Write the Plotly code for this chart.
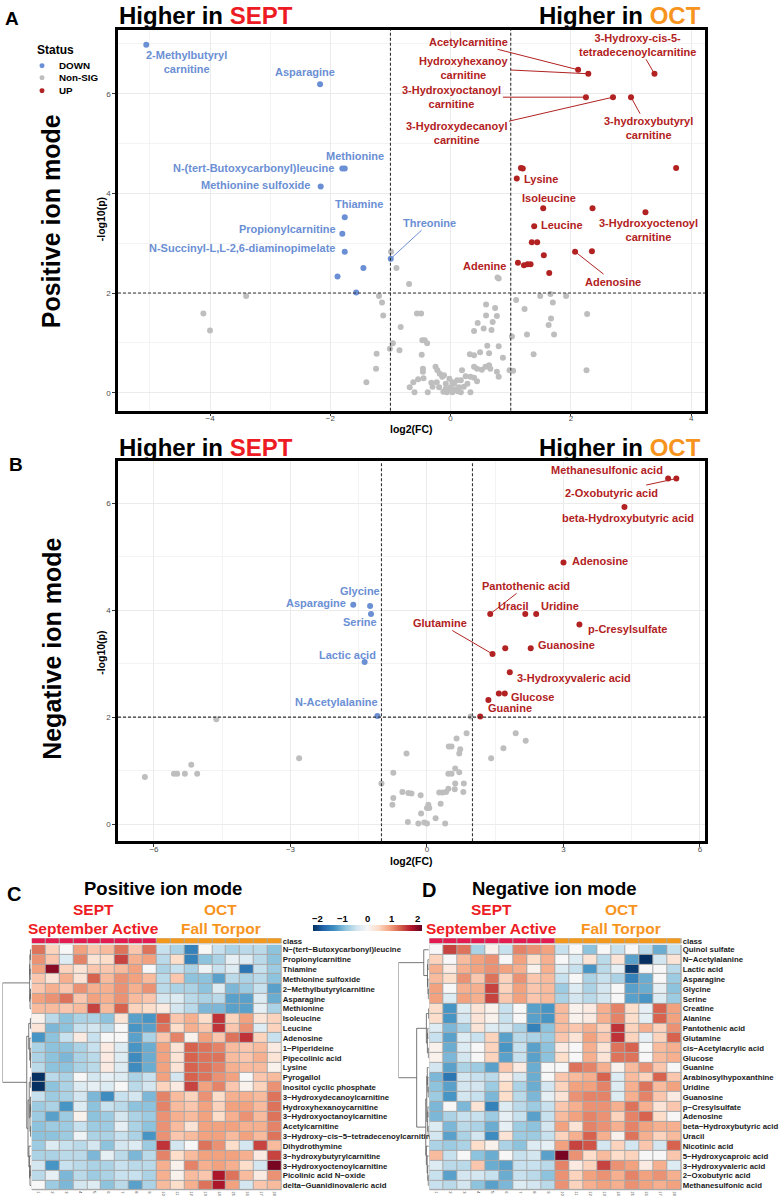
import plotly.graph_objects as go

W, H = 782, 1203
FONT = "Liberation Sans, Arial, sans-serif"
COL_DOWN = "#6B8FD4"
COL_UP = "#B22222"
COL_NS = "#BEBEBE"
RED_T = "#ED1C24"
ORANGE_T = "#F7941D"
SEPT_BAR = "#E31B4F"
OCT_BAR = "#F39A1E"

FC_CUT = 1.0
P_CUT = 2.0

# ---------------- Panel A (positive ion mode) ----------------
A_down_names = ["2-Methylbutyryl\ncarnitine", "Asparagine", "N-(tert-Butoxycarbonyl)leucine", "Methionine",
                "Methionine sulfoxide", "Thiamine", "Propionylcarnitine", "N-Succinyl-L,L-2,6-diaminopimelate",
                "", "", "", "Threonine"]
A_down_fc = [-5.06, -2.17, -1.80, -1.76, -2.16, -1.76, -1.80, -1.76, -1.45, -1.88, -1.57, -0.995]
A_down_p = [6.98, 6.19, 4.50, 4.50, 4.14, 3.52, 3.19, 2.83, 2.50, 2.33, 2.01, 2.69]

A_up_names = ["Acetylcarnitine", "Hydroxyhexanoy\ncarnitine", "3-Hydroxy-cis-5-\ntetradecenoylcarnitine",
              "3-Hydroxyoctanoyl\ncarnitine", "3-Hydroxydecanoyl\ncarnitine", "3-hydroxybutyryl\ncarnitine",
              "", "", "", "Lysine", "Isoleucine", "", "3-Hydroxyoctenoyl\ncarnitine", "Leucine", "", "", "",
              "Adenosine", "", "Adenine", "", "", "", ""]
A_up_fc = [2.12, 2.29, 3.39, 2.25, 2.70, 3.00, 1.17, 1.20, 3.75, 1.10, 1.54, 2.36, 3.24, 1.39, 1.35, 1.44,
           1.55, 2.07, 2.35, 1.12, 1.22, 1.28, 1.33, 1.64]
A_up_p = [6.48, 6.40, 6.40, 5.93, 5.93, 5.93, 4.51, 4.50, 4.51, 4.30, 3.70, 3.70, 3.62, 3.34, 3.02, 3.02,
          2.76, 2.83, 2.84, 2.61, 2.56, 2.58, 2.58, 2.40]

A_ns_fc = [-3.40, -4.11, -4.00, -1.19, -1.14, -1.12, -1.23, -1.24, -1.40, -1.01, -0.96, -0.99, -0.90, -0.85,
           -0.83, -0.69, 0.80, -0.56, -0.49, -0.47, -0.43, -0.39, -0.48, -0.46, -0.46, -0.32, -0.62, -0.54,
           -0.45, -0.68, -0.60, -0.38, -0.25, -0.22, -0.18, -0.14, -0.11, -0.23, -0.19, -0.08, -0.03, 0.03,
           0.08, 0.14, 0.17, 0.19, 0.25, 0.33, 0.32, 0.39, 0.49, 0.64, 0.80, 0.87, 0.61, 0.39, 0.44, 0.52,
           0.58, 0.64, 0.66, 0.77, 0.80, 0.98, 1.04, -0.08, 0.00, 0.06, 0.11, 0.03, -0.06, 0.17, 0.39, 0.44,
           0.33, 0.45, 0.55, 0.70, 0.68, 0.77, 0.74, 0.59, 0.59, 0.39, 1.09, 1.23, 1.27, 1.38, 1.49, 1.66,
           1.70, 1.92, 1.67, 1.63, 1.72, 2.27, 2.26, 1.02, 0.78, -0.12, 0.12, 0.22, -0.02, 0.28, -0.30]
A_ns_p = [1.94, 1.59, 1.25, 1.94, 1.81, 1.55, 0.78, 0.48, 0.21, 0.88, 0.99, 2.83, 2.50, 0.85,
          1.32, 2.18, 2.29, 1.59, 1.59, 1.05, 1.05, 0.99, 0.76, 0.48, 0.42, 0.20, 0.21, 0.27,
          0.29, 0.11, 0.01, 0.01, 0.52, 0.45, 0.38, 0.32, 0.35, 0.21, 0.11, 0.08, 0.05, 0.01,
          0.06, 0.11, 0.25, 0.45, 0.33, 0.01, 0.77, 0.75, 0.81, 0.79, 0.93, 0.70, 0.94, 0.52, 0.48, 0.46,
          0.52, 0.55, 0.48, 0.42, 0.32, 0.45, 0.44, 0.18, 0.11, 0.18, 0.25, 0.21, 0.01, 0.01, 0.30, 0.23,
          0.32, 1.40, 1.29, 1.42, 1.26, 1.54, 1.70, 1.77, 1.55, 1.24, 1.86, 1.68, 1.17, 0.77, 1.94, 1.98,
          1.81, 1.94, 1.49, 1.36, 1.17, 1.58, 0.45, 1.13, 2.31, 0.02, 0.03, 0.12, 0.28, 0.18, 0.12]

# ---------------- Panel B (negative ion mode) ----------------
B_down_names = ["Asparagine", "Glycine", "Serine", "Lactic acid", "N-Acetylalanine"]
B_down_fc = [-1.62, -1.25, -1.23, -1.37, -1.09]
B_down_p = [4.10, 4.08, 3.93, 3.03, 2.02]

B_up_names = ["Methanesulfonic acid", "2-Oxobutyric acid", "beta-Hydroxybutyric acid", "Adenosine",
              "Pantothenic acid", "Uracil", "Uridine", "p-Cresylsulfate", "Glutamine", "", "Guanosine",
              "3-Hydroxyvaleric acid", "", "Glucose", "Guanine", ""]
B_up_fc = [5.30, 5.48, 4.34, 3.00, 1.39, 2.16, 2.40, 3.35, 1.44, 1.72, 2.28, 1.82, 1.58, 1.71, 1.35, 1.17]
B_up_p = [6.46, 6.46, 5.93, 4.89, 3.93, 3.93, 3.93, 3.73, 3.18, 3.29, 3.29, 2.84, 2.44, 2.44, 2.32, 2.01]

B_ns_fc = [-4.63, -6.20, -5.56, -5.49, -5.32, -5.18, -5.05, -2.81, -1.00, -0.74, -0.74, -0.76,
           0.96, 0.87, 0.65, 0.48, 0.54, 0.73, 0.71, -0.45, 0.47, 0.54, 0.62, 0.71, 0.62, 0.81, 0.47,
           0.27, 0.34, 0.42, -0.54, -0.41, -0.34, -0.14, 0.61, 0.80, 0.30, 0.03, 0.00, 0.05, -0.13,
           0.19, 0.40, -0.42, -0.19, -0.06, 0.00, 1.41, 1.68, 1.95, 2.17]
B_ns_p = [1.96, 0.88, 0.94, 0.94, 0.94, 1.11, 0.94, 1.23, 0.76, 0.96, 0.49, 0.36,
          2.01, 1.70, 1.60, 1.45, 1.45, 1.40, 1.32, 1.32, 0.94, 0.94, 1.04, 0.97, 0.76, 0.76, 0.66,
          0.59, 0.59, 0.60, 0.60, 0.58, 0.57, 0.54, 0.65, 0.60, 0.38, 0.36, 0.30, 0.30, 0.20,
          0.11, 0.01, 0.04, 0.01, 0.03, 0.01, 1.23, 1.42, 1.70, 1.56]

# ---------------- Heatmaps ----------------
SAMPLES = [str(i) for i in range(1, 19)]
CLASSES = ["SEPT"] * 9 + ["OCT"] * 9

C_ROWS = ["N\u2212(tert\u2212Butoxycarbonyl)leucine", "Propionylcarnitine", "Thiamine", "Methionine sulfoxide",
          "2\u2212Methylbutyrylcarnitine", "Asparagine", "Methionine", "Isoleucine", "Leucine", "Adenosine",
          "1\u2212Piperideine", "Pipecolinic acid", "Lysine", "Pyrogallol", "Inositol cyclic phosphate",
          "3\u2212Hydroxydecanoylcarnitine", "Hydroxyhexanoycarnitine", "3\u2212Hydroxyoctanoylcarnitine",
          "Acetylcarnitine", "3\u2212Hydroxy\u2212cis\u22125\u2212tetradecenoylcarnitine", "Dihydrothymine",
          "3\u2212hydroxybutyrylcarnitine", "3\u2212Hydroxyoctenoylcarnitine", "Picolinic acid N\u2212oxide",
          "delta\u2212Guanidinovaleric acid"]
C_Z = [
    [1.2, 0.5, 0.0, 0.9, 0.6, 0.7, 1.2, 0.6, 1.2, -0.5, -0.7, -1.5, 0.0, -0.5, -0.7, -0.6, -0.6, -0.9],
    [1.0, 0.6, -0.3, 1.1, 0.3, 0.4, 1.5, 0.8, 0.9, -0.6, 0.4, -1.5, -0.9, -0.7, -0.2, -0.3, -0.6, -0.9],
    [0.9, 2.0, 0.5, 0.3, 0.6, 0.6, 0.7, 0.9, 0.0, -0.7, -0.5, -0.7, -0.1, -0.5, -0.3, -1.6, -0.5, -0.8],
    [0.6, 0.3, 0.8, 0.3, 1.3, 0.7, 1.0, 0.9, 0.7, -0.6, 0.6, -0.9, -0.9, -1.2, -0.6, -0.7, -0.6, -0.9],
    [0.6, 0.8, 0.6, 1.0, 0.8, 0.8, 1.0, 0.8, 1.0, -0.6, -0.7, -0.7, -0.9, -0.3, -1.0, -0.8, -0.5, -1.2],
    [0.9, 1.0, 1.2, 0.6, 0.9, 0.8, 1.0, 0.7, 0.6, -0.4, -0.3, -0.6, -0.7, -0.6, -1.2, -1.2, -0.3, -1.1],
    [0.7, 0.7, 0.6, 0.7, 1.5, 0.7, 1.3, 0.5, 0.4, 0.2, -0.4, -0.6, -1.0, -1.0, -1.2, -1.2, -0.2, -0.7],
    [0.1, -0.6, -0.9, -0.7, -0.7, -0.9, 0.3, -1.2, -1.3, 1.3, 0.6, 0.8, 0.4, 1.6, 0.5, 0.9, 0.3, 0.5],
    [0.3, -1.0, -0.9, -0.5, -0.4, -0.6, 0.0, -1.3, -1.2, 1.2, 0.4, 0.8, 0.6, 1.6, 0.6, 1.0, -0.3, 0.5],
    [-1.3, -0.9, -0.5, 0.2, -0.5, 0.0, 0.0, -1.2, -0.7, 0.6, 1.1, 0.1, 0.9, 0.6, 1.2, 1.6, 0.5, -0.5],
    [-0.7, -0.9, -0.9, -0.7, -0.5, 0.2, -0.3, -1.3, -1.1, 0.9, 0.3, 1.3, 1.2, 1.1, 0.7, 0.6, 0.7, 0.2],
    [-0.7, -0.9, -1.0, -0.7, -0.6, 0.2, -0.3, -1.4, -1.1, 0.9, 0.3, 1.3, 1.2, 1.2, 0.7, 0.6, 0.8, 0.3],
    [-0.6, -0.9, -0.9, -0.7, -0.6, 0.2, -0.3, -1.4, -1.1, 0.9, 0.3, 1.3, 1.2, 1.1, 0.8, 0.7, 0.7, 0.1],
    [-2.3, -0.6, -0.7, 0.0, -0.4, -0.2, -0.3, -0.7, -0.5, 0.9, -0.4, 1.3, 1.2, 1.0, 0.9, 0.0, 0.6, 0.7],
    [-2.3, -0.9, -0.7, -0.3, -0.2, -0.3, 0.0, -0.6, -0.4, 0.5, 0.2, 1.5, 0.9, 1.1, 0.6, 0.1, 0.5, 1.0],
    [-0.5, -0.8, -0.7, -0.4, -1.0, -1.4, -0.5, -0.4, -1.0, 1.1, 0.7, 0.5, 1.0, 0.4, 0.8, 0.8, 0.7, 1.2],
    [-0.8, -0.7, -1.3, -0.3, -0.9, -0.5, -0.6, -0.9, -0.9, 1.1, 0.7, 0.6, 0.9, 0.5, 0.9, 0.9, 0.7, 1.2],
    [-0.8, -1.2, -0.8, 0.1, -0.9, -0.8, -0.4, -0.7, -0.8, 1.0, 0.8, 0.7, 0.9, 0.4, 0.8, 1.0, 0.7, 1.2],
    [-0.9, -0.8, -0.8, -0.5, -0.8, -0.8, -0.2, -0.7, -0.9, 1.0, 0.7, 0.3, 0.9, 0.9, 0.9, 0.8, 0.8, 1.1],
    [-0.9, -0.9, -0.8, -0.1, -0.7, -0.7, -0.5, -0.7, -1.3, 1.0, 0.6, 0.7, 0.9, 0.9, 0.7, 0.9, 0.7, 1.2],
    [-0.8, -0.3, -0.5, -0.6, -0.4, -0.9, -0.4, -0.3, -0.8, 1.6, -0.4, 0.0, 1.2, 1.0, 0.4, -0.4, 1.5, 0.7],
    [-0.7, -0.7, -0.6, -0.6, -1.0, -0.2, -0.6, -1.0, -0.6, 1.1, 0.4, 0.7, 0.9, 0.9, 0.9, 0.8, 0.2, 1.5],
    [-0.4, -1.3, -0.5, -0.6, -0.7, -0.7, -0.5, -0.6, -0.6, 0.8, 0.1, 1.1, 0.8, 0.9, 0.8, 0.4, -0.4, 2.1],
    [-0.6, -0.2, -1.0, -0.6, -0.8, -0.7, -0.5, -0.5, -0.7, 0.8, 0.1, 0.7, 0.6, 1.8, 1.2, 0.7, 0.2, 1.0],
    [0.0, -0.8, -1.0, -0.4, -0.3, -0.9, -0.6, -1.2, -0.7, 0.7, 0.4, 0.8, 1.2, 1.8, 0.9, -0.4, 0.6, 0.7],
]

D_ROWS = ["Quinol sulfate", "N\u2212Acetylalanine", "Lactic acid", "Asparagine", "Glycine", "Serine", "Creatine",
          "Alanine", "Pantothenic acid", "Glutamine", "cis\u2212Acetylacrylic acid", "Glucose", "Guanine",
          "Arabinosylhypoxanthine", "Uridine", "Guanosine", "p\u2212Cresylsulfate", "Adenosine",
          "beta\u2212Hydroxybutyric acid", "Uracil", "Nicotinic acid", "5\u2212Hydroxycaproic acid",
          "3\u2212Hydroxyvaleric acid", "2\u2212Oxobutyric acid", "Methanesulfonic acid"]
D_Z = [
    [0.0, 1.5, 1.2, -0.7, 0.1, -0.5, 1.1, 1.0, 0.9, -0.5, 0.0, -0.9, 0.0, -0.5, 0.0, -0.6, -1.1, -0.5],
    [0.5, 0.0, 0.7, 0.9, 1.0, 0.0, 0.9, 0.4, 0.8, 0.0, -0.3, 0.3, -0.6, 0.3, -1.2, -2.3, -0.4, 0.3],
    [0.8, 0.2, 0.8, 0.9, 1.0, 0.9, 0.8, 0.1, 0.8, -0.3, -0.5, -1.3, -0.6, -0.2, -2.1, 0.0, 0.0, -0.6],
    [0.7, 0.4, 1.0, 0.6, 1.2, 0.5, 1.0, 0.6, 0.7, -0.5, 0.0, -0.7, -0.5, -0.7, -1.5, -1.1, 0.0, -0.8],
    [0.9, 0.0, 0.8, 0.8, 1.5, 0.5, 0.9, 0.6, 0.7, -0.8, -0.3, -0.7, -0.4, 0.0, -1.2, -1.1, -0.2, -0.9],
    [0.9, -0.3, 0.9, 0.8, 1.5, 0.6, 0.9, 0.6, 0.7, -0.7, -0.4, -0.6, -0.4, 0.0, -1.2, -1.3, -0.3, -0.8],
    [0.4, -1.3, -0.3, 0.3, 0.1, -0.5, 0.0, -1.2, -1.3, 0.7, 0.1, 0.2, 0.8, 1.1, 0.4, -0.2, 1.3, 0.9],
    [0.4, -1.3, -0.4, 0.3, 0.1, -0.5, 0.0, -1.2, -1.3, 0.7, 0.1, 0.2, 0.8, 1.1, 0.4, -0.2, 1.3, 0.9],
    [-0.3, -1.0, -0.7, 0.3, -0.3, -0.4, -0.7, -1.5, -0.9, 0.7, 0.6, 0.8, 0.5, 1.6, 0.5, 0.8, 0.5, 1.0],
    [-0.5, -1.2, -0.3, -0.5, 0.5, -1.2, -0.6, -0.7, -0.8, 0.6, 0.3, 0.9, 0.6, 1.6, 0.5, -0.2, 0.5, 1.3],
    [0.1, -1.1, -0.3, 0.0, 0.5, -1.3, -0.5, -1.2, -0.9, 0.2, 0.0, 0.8, 0.3, 1.2, 1.3, 0.0, 0.7, 0.8],
    [0.1, -1.0, -0.4, 0.0, 0.5, -1.2, -0.5, -1.2, -0.9, 0.4, 0.0, 0.8, 0.3, 1.2, 1.2, 0.0, 0.7, 0.8],
    [-0.4, -1.2, -0.7, -0.8, -1.2, 0.6, 0.2, -1.1, 0.0, 0.0, 1.2, 1.1, 0.8, 0.1, 0.7, 1.0, 0.6, 0.0],
    [-1.0, -1.6, -0.4, -0.5, -0.6, 0.2, -0.4, -1.1, 0.0, 0.6, 0.7, 0.8, 1.3, -0.3, 0.7, 0.5, 1.3, 0.6],
    [-0.9, -1.2, -0.4, -0.4, -0.8, 0.4, -0.7, -1.1, -0.4, 0.5, 0.9, 0.9, 1.1, -0.3, 0.8, 1.2, 0.7, 0.9],
    [-0.8, -1.3, -0.4, -0.5, -1.0, 0.4, -0.6, -1.0, -0.2, 0.3, 1.0, 1.1, 1.1, -0.3, 0.8, 1.1, 0.6, 0.2],
    [-1.0, 0.0, -1.0, 0.3, -1.5, -0.3, -0.6, -0.8, -0.5, 0.6, 0.8, 1.0, 1.0, 0.8, 1.2, 0.8, 0.3, 0.6],
    [-1.0, -0.7, -0.5, -0.5, -0.8, -0.2, -0.5, -1.2, -0.5, 0.7, 0.9, 1.1, 1.0, 0.5, 1.1, 1.3, 0.4, 0.0],
    [-0.3, -1.0, -0.6, -0.7, -1.1, -0.2, -0.8, -0.9, -0.4, 0.9, 0.3, 1.1, 1.0, 0.8, 1.1, 0.9, 0.8, 0.8],
    [-0.4, -1.2, -0.7, -0.4, -1.4, 0.3, -0.8, -0.8, -0.5, 0.5, 0.8, 1.3, 0.8, 0.1, 1.2, 0.8, 0.5, 0.7],
    [-0.7, -0.8, -0.7, 0.4, 0.1, -0.7, -0.9, -0.3, -0.2, 0.9, 1.5, 1.4, -0.4, 0.5, -0.4, 0.6, -0.4, 1.3],
    [0.7, -0.5, 0.0, -0.9, -1.1, 0.0, -0.5, -0.4, -1.2, 2.1, 1.0, 0.4, 0.7, 0.4, 0.5, 0.0, 0.0, 0.6],
    [-0.3, -0.6, -0.6, 0.6, -1.1, -1.2, -0.5, -0.5, -0.6, 1.1, 0.2, 0.5, 1.5, 1.0, 0.9, 0.2, 0.8, -0.3],
    [-0.5, -1.2, -0.4, -0.4, -0.5, -1.1, -0.5, -0.6, -0.9, 1.0, 0.5, 0.9, 1.0, 0.8, 1.1, 0.9, 1.0, 0.8],
    [-0.5, -0.6, -0.4, -0.9, -1.2, -1.0, -0.3, -0.4, -0.6, 1.0, 0.5, 0.8, 0.9, 0.8, 1.0, 0.9, 0.8, 0.9],
]

# Dendrogram trees (leaf = row index, node = (left, right, height))
C_TREE = ((((0, 1, 0.8), (2, 3, 1.0), 1.3), ((4, 5, 0.7), 6, 1.1), 1.6),
          (((7, 8, 0.8), (9, ((10, 11, 0.4), 12, 0.7), 1.5), 2.5),
           (((13, 14, 0.9), ((15, (16, 17, 0.5), 0.8), (18, 19, 0.6), 1.2), 2.0),
            (20, (21, ((22, 23, 0.9), 24, 1.2), 1.6), 2.3), 3.2), 4.5), 29.0)
D_TREE = ((0, ((1, 2, 0.8), (3, (4, 5, 0.4), 0.8), 1.3), 5.0),
          (((6, 7, 0.3), ((8, 9, 1.0), (10, 11, 0.4), 1.4), 2.4),
           (((12, (13, (14, 15, 0.5), 0.9), 1.5), ((16, 17, 0.8), (18, 19, 0.6), 1.1), 2.0),
            (20, (21, (22, (23, 24, 0.5), 1.0), 1.6), 2.4), 3.0), 12.0), 30.0)

HEAT_COLORS = ["#053061", "#2166AC", "#4393C3", "#92C5DE", "#D1E5F0", "#F7F7F7",
               "#FDDBC7", "#F4A582", "#D6604D", "#B2182B", "#67001F"]
ZMIN, ZMAX = -2.2, 2.2
CB_TICKS = [-2, -1, 0, 1, 2]


# ---------------- helpers ----------------
def px(x):
    return x / W


def py(y):
    return 1 - y / H


annotations = []
shapes = []


def txt(x, y, text, size, color="black", xanchor="center", yanchor="middle", angle=0):
    annotations.append(dict(x=px(x), y=py(y), xref="paper", yref="paper", text=text, showarrow=False,
                            xanchor=xanchor, yanchor=yanchor, textangle=angle,
                            font=dict(family=FONT, size=size, color=color)))


def add_labels(names, fcs, ps, styles, color, xref, yref):
    for n, fx, fy in zip(names, fcs, ps):
        if not n:
            continue
        mode, dx, dy = styles[n]
        a = dict(x=fx, y=fy, xref=xref, yref=yref, text="<b>" + n.replace("\n", "<br>") + "</b>",
                 font=dict(family=FONT, size=11, color=color), align="center")
        if mode == "arrow":
            a.update(showarrow=True, ax=dx, ay=dy, arrowhead=0, arrowwidth=1, arrowcolor=color,
                     standoff=2, xanchor="center", yanchor="middle")
        else:
            a.update(showarrow=False, xshift=dx, yshift=-dy,
                     xanchor={"c": "center", "l": "left", "r": "right"}[mode], yanchor="middle")
        annotations.append(a)


def dendro(node, xs, ys):
    if isinstance(node, int):
        return float(node), 0.0
    l, r, h = node
    pl, hl = dendro(l, xs, ys)
    pr, hr = dendro(r, xs, ys)
    xs += [hl, h, h, hr, None]
    ys += [pl, pl, pr, pr, None]
    return (pl + pr) / 2, h


fig = go.Figure()

# ---------------- scatter panels ----------------
for ax_sfx, down, ns, up in [
    ("", (A_down_fc, A_down_p), (A_ns_fc, A_ns_p), (A_up_fc, A_up_p)),
    ("2", (B_down_fc, B_down_p), (B_ns_fc, B_ns_p), (B_up_fc, B_up_p)),
]:
    for name, (xs, ys), col in [("Non-SIG", ns, COL_NS), ("DOWN", down, COL_DOWN), ("UP", up, COL_UP)]:
        fig.add_trace(go.Scatter(x=xs, y=ys, mode="markers", name=name, showlegend=False,
                                 marker=dict(color=col, size=6, line=dict(width=0)),
                                 xaxis="x" + ax_sfx, yaxis="y" + ax_sfx))

A_STYLE_DOWN = {
    "2-Methylbutyryl\ncarnitine": ("c", 40, 17),
    "Asparagine": ("c", -15, -12),
    "Methionine": ("c", 10, -12),
    "N-(tert-Butoxycarbonyl)leucine": ("r", -6, 0),
    "Methionine sulfoxide": ("r", -9, -1),
    "Thiamine": ("c", 14, -13),
    "Propionylcarnitine": ("r", -4, -5),
    "N-Succinyl-L,L-2,6-diaminopimelate": ("r", -8, -4),
    "Threonine": ("arrow", 39, -36),
}
A_STYLE_UP = {
    "Acetylcarnitine": ("arrow", -110, -28),
    "Hydroxyhexanoy\ncarnitine": ("arrow", -124, -6),
    "3-Hydroxy-cis-5-\ntetradecenoylcarnitine": ("arrow", -17, -29),
    "3-Hydroxyoctanoyl\ncarnitine": ("arrow", -134, 0),
    "3-Hydroxydecanoyl\ncarnitine": ("arrow", -156, 36),
    "3-hydroxybutyryl\ncarnitine": ("arrow", 17, 31),
    "Lysine": ("l", 5, 1),
    "Isoleucine": ("c", 6, -10),
    "Leucine": ("l", 5, -1),
    "3-Hydroxyoctenoyl\ncarnitine": ("c", 3, 18),
    "Adenine": ("r", -10, 3),
    "Adenosine": ("arrow", 38, 30),
}
B_STYLE_DOWN = {
    "Glycine": ("c", -10, -15),
    "Asparagine": ("r", -5, -2),
    "Serine": ("c", -11, 8),
    "Lactic acid": ("c", -17, -7),
    "N-Acetylalanine": ("c", -41, -14),
}
B_STYLE_UP = {
    "Methanesulfonic acid": ("c", -61, -9),
    "2-Oxobutyric acid": ("arrow", -65, 14),
    "beta-Hydroxybutyric acid": ("c", 4, 11),
    "Adenosine": ("l", 7, -2),
    "Pantothenic acid": ("arrow", 36, -28),
    "Uracil": ("c", -12, -8),
    "Uridine": ("c", 24, -8),
    "p-Cresylsulfate": ("l", 7, 4),
    "Glutamine": ("arrow", -53, -31),
    "Guanosine": ("l", 5, -3),
    "3-Hydroxyvaleric acid": ("l", 5, 6),
    "Glucose": ("l", 4, 3),
    "Guanine": ("c", 22, 8),
}
add_labels(A_down_names, A_down_fc, A_down_p, A_STYLE_DOWN, COL_DOWN, "x", "y")
add_labels(A_up_names, A_up_fc, A_up_p, A_STYLE_UP, COL_UP, "x", "y")
add_labels(B_down_names, B_down_fc, B_down_p, B_STYLE_DOWN, COL_DOWN, "x2", "y2")
add_labels(B_up_names, B_up_fc, B_up_p, B_STYLE_UP, COL_UP, "x2", "y2")

# threshold lines
for xr, yr in [("x", "y"), ("x2", "y2")]:
    for v in (-FC_CUT, FC_CUT):
        shapes.append(dict(type="line", xref=xr, yref=yr + " domain", x0=v, x1=v, y0=0, y1=1,
                           line=dict(color="#333333", width=1.1, dash="3px,2px")))
    shapes.append(dict(type="line", xref=xr + " domain", yref=yr, x0=0, x1=1, y0=P_CUT, y1=P_CUT,
                       line=dict(color="#333333", width=1.1, dash="3px,2px")))

# ---------------- heatmaps ----------------
heat_scale = [[i / (len(HEAT_COLORS) - 1), c] for i, c in enumerate(HEAT_COLORS)]
cb_left, cb_right = 313, 422
fig.add_trace(go.Heatmap(z=C_Z, x=list(range(len(SAMPLES))), y=list(range(len(C_ROWS))),
                         colorscale=heat_scale, zmin=ZMIN, zmax=ZMAX, xgap=1, ygap=1,
                         xaxis="x3", yaxis="y3",
                         colorbar=dict(orientation="h", x=px((cb_left + cb_right) / 2), xanchor="center",
                                       y=py(932), yanchor="bottom", len=(cb_right - cb_left) / W,
                                       thickness=6, showticklabels=False, ticks="", outlinewidth=0,
                                       xpad=0, ypad=0)))
fig.add_trace(go.Heatmap(z=D_Z, x=list(range(len(SAMPLES))), y=list(range(len(D_ROWS))),
                         colorscale=heat_scale, zmin=ZMIN, zmax=ZMAX, xgap=1, ygap=1,
                         xaxis="x4", yaxis="y4", showscale=False))
for v in CB_TICKS:
    txt(cb_left + (v - ZMIN) / (ZMAX - ZMIN) * (cb_right - cb_left), 920,
        "<b>" + ("\u2212" + str(-v) if v < 0 else str(v)) + "</b>", 9.5)

class_z = [[0 if c == "SEPT" else 1 for c in CLASSES]]
class_scale = [[0, SEPT_BAR], [0.5, SEPT_BAR], [0.5, OCT_BAR], [1, OCT_BAR]]
for xa, ya in [("x5", "y5"), ("x6", "y6")]:
    fig.add_trace(go.Heatmap(z=class_z, x=list(range(len(SAMPLES))), y=[0], colorscale=class_scale,
                             zmin=0, zmax=1, xgap=1, showscale=False, xaxis=xa, yaxis=ya))

# grey cell borders behind heatmaps
for xa, ya in [("x3", "y3"), ("x4", "y4"), ("x5", "y5"), ("x6", "y6")]:
    shapes.append(dict(type="rect", xref=xa + " domain", yref=ya + " domain", x0=0, x1=1, y0=0, y1=1,
                       fillcolor="#A8A8A8", line=dict(width=0), layer="below"))

# dendrograms
for tree, xa, ya in [(C_TREE, "x7", "y7"), (D_TREE, "x8", "y8")]:
    xs, ys = [], []
    dendro(tree, xs, ys)
    fig.add_trace(go.Scatter(x=xs, y=ys, mode="lines", line=dict(color="#555555", width=0.8),
                             showlegend=False, xaxis=xa, yaxis=ya, hoverinfo="skip"))

# ---------------- axes ----------------
axis_common = dict(showline=True, linecolor="black", linewidth=2.5, mirror=True, zeroline=False,
                   ticks="outside", ticklen=3, tickcolor="#333333", tickwidth=1,
                   tickfont=dict(family=FONT, size=8, color="#4D4D4D"),
                   showgrid=True, gridcolor="#EBEBEB", gridwidth=0.8)
A_DOM_X = [px(118), px(705)]
layout = dict(
    xaxis=dict(domain=A_DOM_X, range=[-5.53, 4.23], dtick=2, tick0=0, ticklabelstandoff=-5,
               minor=dict(dtick=1, tick0=0, showgrid=True, gridcolor="#F3F3F3", ticks=""),
               anchor="y", **axis_common),
    yaxis=dict(domain=[py(410), py(28)], range=[-0.36, 7.28], dtick=2, tick0=0,
               minor=dict(dtick=1, tick0=0, showgrid=True, gridcolor="#F3F3F3", ticks=""),
               anchor="x", **axis_common),
    xaxis2=dict(domain=A_DOM_X, range=[-6.79, 6.11], dtick=3, tick0=0, ticklabelstandoff=-5,
                minor=dict(dtick=1.5, tick0=0, showgrid=True, gridcolor="#F3F3F3", ticks=""),
                anchor="y2", **axis_common),
    yaxis2=dict(domain=[py(842), py(461)], range=[-0.32, 6.78], dtick=2, tick0=0,
                minor=dict(dtick=1, tick0=0, showgrid=True, gridcolor="#F3F3F3", ticks=""),
                anchor="x2", **axis_common),
)
heat_x_common = dict(showgrid=False, zeroline=False, showline=False, ticks="",
                     range=[-0.5, len(SAMPLES) - 0.5], tickangle=90,
                     tickvals=list(range(len(SAMPLES))), ticktext=SAMPLES,
                     tickfont=dict(family=FONT, size=4, color="#333333"))
row_font = dict(family=FONT, size=7.8, color="#1A1A1A", weight="bold")
layout.update(
    xaxis3=dict(domain=[px(31.7), px(281.7)], anchor="y3", **heat_x_common),
    yaxis3=dict(domain=[py(1192.3), py(946)], anchor="x3", side="right", range=[len(C_ROWS) - 0.5, -0.5],
                tickvals=list(range(len(C_ROWS))), ticktext=C_ROWS, showgrid=False, zeroline=False,
                ticks="", tickfont=row_font),
    xaxis4=dict(domain=[px(429.3), px(681.7)], anchor="y4", **heat_x_common),
    yaxis4=dict(domain=[py(1192.3), py(946)], anchor="x4", side="right", range=[len(D_ROWS) - 0.5, -0.5],
                tickvals=list(range(len(D_ROWS))), ticktext=D_ROWS, showgrid=False, zeroline=False,
                ticks="", tickfont=row_font),
    xaxis5=dict(domain=[px(31.7), px(281.7)], anchor="y5", range=[-0.5, len(SAMPLES) - 0.5],
                showticklabels=False, showgrid=False, zeroline=False, ticks=""),
    yaxis5=dict(domain=[py(944.7), py(939.3)], anchor="x5", side="right", range=[-0.5, 0.5],
                tickvals=[0], ticktext=["class"], showgrid=False, zeroline=False, ticks="",
                tickfont=row_font),
    xaxis6=dict(domain=[px(429.3), px(681.7)], anchor="y6", range=[-0.5, len(SAMPLES) - 0.5],
                showticklabels=False, showgrid=False, zeroline=False, ticks=""),
    yaxis6=dict(domain=[py(944.7), py(939.3)], anchor="x6", side="right", range=[-0.5, 0.5],
                tickvals=[0], ticktext=["class"], showgrid=False, zeroline=False, ticks="",
                tickfont=row_font),
    xaxis7=dict(domain=[px(2.5), px(31.2)], anchor="y7", range=[C_TREE[2], 0], visible=False),
    yaxis7=dict(domain=[py(1192.3), py(946)], anchor="x7", range=[len(C_ROWS) - 0.5, -0.5], visible=False),
    xaxis8=dict(domain=[px(398.5), px(428.8)], anchor="y8", range=[D_TREE[2], 0], visible=False),
    yaxis8=dict(domain=[py(1192.3), py(946)], anchor="x8", range=[len(D_ROWS) - 0.5, -0.5], visible=False),
)

# ---------------- text ----------------
txt(12, 17, "<b>A</b>", 19)
txt(16, 464, "<b>B</b>", 19)
txt(14, 895, "<b>C</b>", 20)
txt(429, 891, "<b>D</b>", 20)
txt(117, 14, "<b>Higher in <span style='color:%s'>SEPT</span></b>" % RED_T, 24, xanchor="left")
txt(703, 14, "<b>Higher in <span style='color:%s'>OCT</span></b>" % ORANGE_T, 24, xanchor="right")
txt(117, 447, "<b>Higher in <span style='color:%s'>SEPT</span></b>" % RED_T, 24, xanchor="left")
txt(703, 447, "<b>Higher in <span style='color:%s'>OCT</span></b>" % ORANGE_T, 24, xanchor="right")
txt(51, 220, "<b>Positive ion mode</b>", 25, angle=-90)
txt(52, 649, "<b>Negative ion mode</b>", 25, angle=-90)
txt(101, 218, "<b>-log10(p)</b>", 10.5, angle=-90)
txt(101, 653, "<b>-log10(p)</b>", 10.5, angle=-90)
txt(412, 428, "<b>log2(FC)</b>", 10.5)
txt(412, 862, "<b>log2(FC)</b>", 10.5)

# manual legend
txt(35, 48, "<b>Status</b>", 12, xanchor="left")
for yy, lab, col in [(64, "DOWN", COL_DOWN), (76, "Non-SIG", COL_NS), (89, "UP", COL_UP)]:
    shapes.append(dict(type="circle", xref="paper", yref="paper", x0=px(39.5), x1=px(44.5),
                       y0=py(yy + 2.5), y1=py(yy - 2.5), fillcolor=col, line=dict(width=0)))
    txt(57, yy, "<b>%s</b>" % lab, 9.8, xanchor="left")

# heatmap titles
txt(163, 889, "<b>Positive ion mode</b>", 18.5)
txt(554, 889, "<b>Negative ion mode</b>", 18.5)
for cx_s, cx_o in [(93, 221), (492, 621)]:
    txt(cx_s, 911, "<b>SEPT</b>", 15.5, color=RED_T)
    txt(cx_s, 930, "<b>September Active</b>", 15.5, color=RED_T)
    txt(cx_o, 911, "<b>OCT</b>", 15.5, color=ORANGE_T)
    txt(cx_o, 930, "<b>Fall Torpor</b>", 15.5, color=ORANGE_T)

fig.update_layout(**layout)
fig.update_layout(width=W, height=H, autosize=False, margin=dict(l=0, r=0, t=0, b=0),
                  paper_bgcolor="white", plot_bgcolor="white", showlegend=False,
                  font=dict(family=FONT), annotations=annotations, shapes=shapes)

fig.write_html("out.html", config={"displayModeBar": False},
               post_script="document.body.style.margin='0';document.body.style.padding='0';"
                           "document.body.style.overflow='hidden';")
